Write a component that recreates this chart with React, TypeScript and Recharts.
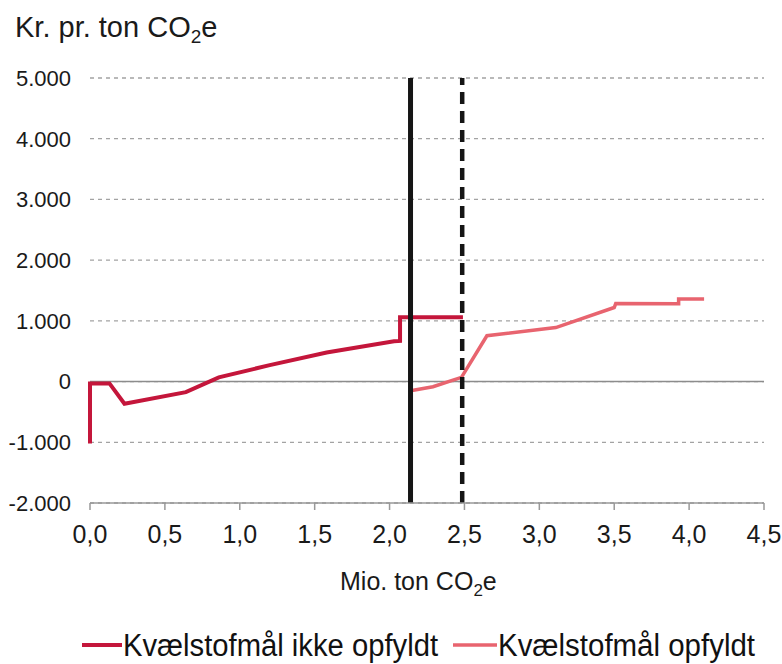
import React from 'react';
import { LineChart, Line, XAxis, YAxis, CartesianGrid, ReferenceLine, Legend } from 'recharts';

// tick values
const xTicks = [0, 0.5, 1, 1.5, 2, 2.5, 3, 3.5, 4, 4.5];
const yTicks = [-2000, -1000, 0, 1000, 2000, 3000, 4000, 5000];

// Kvælstofmål ikke opfyldt (mio. ton CO2e, kr. pr. ton)
const ikkeX = [0, 0, 0.13, 0.23, 0.64, 0.86, 1.2, 1.58, 2.03, 2.07, 2.07, 2.49];
const ikkeY = [-1020, -30, -30, -365, -175, 70, 270, 480, 665, 670, 1058, 1058];

// Kvælstofmål opfyldt
const opfyldtX = [2.14, 2.29, 2.48, 2.65, 3.11, 3.5, 3.51, 3.93, 3.93, 4.1];
const opfyldtY = [-150, -85, 70, 755, 890, 1220, 1285, 1280, 1360, 1360];

// the two vertical markers
const markerSolid = 2.14;
const markerDashed = 2.485;

const DARK = '#c4163b';
const LIGHT = '#e8646f';
const FONT = '"Liberation Sans", Arial, sans-serif';

const ikkeData = ikkeX.map((x, i) => ({ x, y: ikkeY[i] }));
const opfyldtData = opfyldtX.map((x, i) => ({ x, y: opfyldtY[i] }));

const fmtX = (v: number) => v.toFixed(1).replace('.', ',');
const fmtY = (v: number) => {
    const s = Math.abs(v).toString().replace(/\B(?=(\d{3})+(?!\d))/g, '.');
    return v < 0 ? '-' + s : s;
};

const LegendBox = () => (
    <svg width={782} height={50} style={{ display: 'block' }}>
        <line x1={82} y1={30} x2={122} y2={30} stroke={DARK} strokeWidth={4} />
        <text x={123} y={41} fontFamily={FONT} fontSize={31} fill="#111" textLength={315} lengthAdjust="spacingAndGlyphs">
            Kvælstofmål ikke opfyldt
        </text>
        <line x1={453} y1={30} x2={497} y2={30} stroke={LIGHT} strokeWidth={3.5} />
        <text x={498} y={41} fontFamily={FONT} fontSize={31} fill="#111" textLength={257} lengthAdjust="spacingAndGlyphs">
            Kvælstofmål opfyldt
        </text>
    </svg>
);

const App: React.FC = () => {
    return (
        <div style={{ position: 'absolute', left: 0, top: 0, width: 782, height: 664, background: '#fff' }}>
            <LineChart width={782} height={664} margin={{ top: 78, right: 18, bottom: 31, left: 0 }}>
                <CartesianGrid vertical={false} stroke="#a3a3a3" strokeDasharray="4 4" strokeWidth={1.3} />
                <XAxis
                    dataKey="x"
                    type="number"
                    domain={[0, 4.5]}
                    ticks={xTicks}
                    interval={0}
                    tickFormatter={fmtX}
                    height={80}
                    stroke="#999"
                    axisLine={{ stroke: '#999', strokeWidth: 1.5 }}
                    tickLine={{ stroke: '#999', strokeWidth: 1.5 }}
                    tickSize={7}
                    tickMargin={15}
                    tick={{ fontSize: 25, fill: '#1a1a1a', fontFamily: FONT }}
                    label={{
                        content: () => (
                            <text x={340} y={590} fontFamily={FONT} fontSize={25} fill="#1a1a1a">
                                Mio. ton CO
                                <tspan dy={6} fontSize={17}>2</tspan>
                                <tspan dy={-6}>e</tspan>
                            </text>
                        ),
                    }}
                />
                <YAxis
                    type="number"
                    domain={[-2000, 5000]}
                    ticks={yTicks}
                    interval={0}
                    tickFormatter={fmtY}
                    width={90}
                    axisLine={false}
                    tickLine={false}
                    tickSize={0}
                    tickMargin={19}
                    tick={{ fontSize: 22, fill: '#1a1a1a', fontFamily: FONT }}
                    label={{
                        content: () => (
                            <text x={15} y={37} fontFamily={FONT} fontSize={29} fill="#1a1a1a">
                                Kr. pr. ton CO
                                <tspan dy={6} fontSize={19}>2</tspan>
                                <tspan dy={-6}>e</tspan>
                            </text>
                        ),
                    }}
                />
                <ReferenceLine y={0} stroke="#8c8c8c" strokeWidth={1.5} />
                <Line
                    data={ikkeData}
                    dataKey="y"
                    type="linear"
                    stroke={DARK}
                    strokeWidth={4}
                    dot={false}
                    isAnimationActive={false}
                    name="Kvælstofmål ikke opfyldt"
                />
                <Line
                    data={opfyldtData}
                    dataKey="y"
                    type="linear"
                    stroke={LIGHT}
                    strokeWidth={3.5}
                    dot={false}
                    isAnimationActive={false}
                    name="Kvælstofmål opfyldt"
                />
                <ReferenceLine x={markerSolid} stroke="#151515" strokeWidth={5} />
                <ReferenceLine x={markerDashed} stroke="#151515" strokeWidth={4.5} strokeDasharray="12 7" />
                <Legend
                    verticalAlign="bottom"
                    content={() => <LegendBox />}
                    wrapperStyle={{ left: 0, top: 615, width: 782, height: 50, margin: 0, padding: 0 }}
                />
            </LineChart>
        </div>
    );
};

export default App;
